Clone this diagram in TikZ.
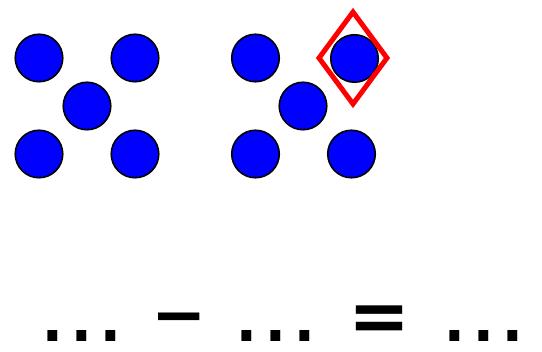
\documentclass[tikz,border=0pt]{standalone}
\usepackage{fontspec}
\setmainfont{DejaVu Sans}
\newfontfamily\dotfont{Liberation Sans}
\usepackage{tikz}
\usetikzlibrary{shapes.geometric}
\definecolor{pblue}{HTML}{0000FF}
\definecolor{pred}{HTML}{FF0000}
\tikzset{
  pbead/.style={circle, draw=black, fill=pblue, line width=1.6pt,
                minimum size=47.5pt, inner sep=0pt},
  pmark/.style={diamond, draw=pred, line width=5pt, inner sep=0pt,
                minimum width=70pt, minimum height=94pt},
  psym/.style={anchor=base, inner sep=0pt, text depth=0pt, text height=40pt,
               font=\fontsize{74}{74}\selectfont\bfseries},
  pminus/.style={psym, font=\fontsize{66}{66}\selectfont\bfseries},
  pdots/.style={anchor=base, inner sep=0pt, text depth=0pt, text height=12pt,
                font=\fontsize{103}{103}\selectfont\dotfont},
}
\newcommand{\pblank}{.\kern0.4pt.\kern0.4pt.}
\begin{document}
\begin{tikzpicture}[x=1pt,y=-1pt]
  \useasboundingbox (0,0) rectangle (542,352);

  % --- primeira figura ---
  \begin{scope}
    \node[pbead] (a1) at (39,58) {};
    \node[pbead] (a2) at (135,58) {};
    \node[pbead] (a3) at (87,106) {};
    \node[pbead] (a4) at (39,154) {};
    \node[pbead] (a5) at (135,154) {};
  \end{scope}

  % --- segunda figura, com a marca ---
  \begin{scope}[shift={(216,0)}]
    \node[pbead] (b1) at (39.5,58) {};
    \node[pbead] (b2) at (138.5,58.5) {};
    \node[pbead] (b3) at (87,106) {};
    \node[pbead] (b4) at (39.5,154) {};
    \node[pbead] (b5) at (135.5,154) {};
  \end{scope}
  \node[pmark] (pick) at (353,58) {};

  % --- equação ---
  \node[pdots] (lhs) at (82,342) {\pblank};
  \node[pminus] (minus) at (179,337.5) {−};
  \node[pdots] (rhs) at (276,342) {\pblank};
  \node[psym] (equals) at (380,342) {=};
  \node[pdots] (res) at (484,342) {\pblank};

\end{tikzpicture}
\end{document}
